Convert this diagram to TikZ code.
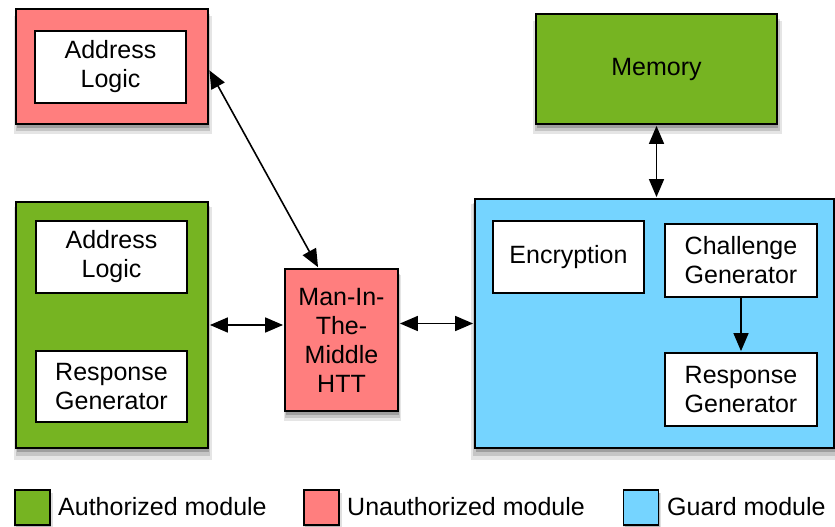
\documentclass[tikz,border=0pt]{standalone}
\usepackage{fontspec}
\setmainfont{Liberation Sans}
\usetikzlibrary{arrows.meta,calc,shadows}
\definecolor{authgreen}{RGB}{118,180,34}
\definecolor{unauthred}{RGB}{255,126,126}
\definecolor{guardblue}{RGB}{117,212,255}
\tikzset{
  box/.style={draw=black,line width=1.8pt,rectangle,inner sep=0pt,align=center,
    font=\fontsize{25}{29}\selectfont},
  softshadow/.style={
    general shadow={fill=black,opacity=0.10,shadow xshift=1pt,shadow yshift=-8pt,shadow scale=1.03},
    general shadow={fill=black,opacity=0.14,shadow xshift=1pt,shadow yshift=-6pt,shadow scale=1.015},
    general shadow={fill=black,opacity=0.20,shadow xshift=1pt,shadow yshift=-4pt}},
  smallshadow/.style={
    general shadow={fill=black,opacity=0.12,shadow xshift=1pt,shadow yshift=-4pt,shadow scale=1.1},
    general shadow={fill=black,opacity=0.18,shadow xshift=1pt,shadow yshift=-3pt}},
  outer/.style={box,softshadow},
  inner/.style={box,fill=white},
  conn/.style={line width=1.6pt,{Triangle[length=18pt,width=15pt]}-{Triangle[length=18pt,width=15pt]},shorten <=1pt,shorten >=1pt},
  oneway/.style={line width=1.6pt,-{Triangle[length=18pt,width=15pt]},shorten >=1pt},
  legtext/.style={anchor=west,inner sep=0pt,font=\fontsize{25}{29}\selectfont}
}
\begin{document}
\begin{tikzpicture}[x=1pt,y=-1pt]
\useasboundingbox (0,0) rectangle (835,527);
% top-left unauthorized
\node[outer,fill=unauthred,minimum width=192pt,minimum height=115pt] (tl) at (112,66.5) {};
\node[inner,minimum width=151pt,minimum height=72pt] (tladdr) at (110.5,67) {Address\\Logic};
% left authorized
\node[outer,fill=authgreen,minimum width=192pt,minimum height=246pt] (auth) at (112,325) {};
\node[inner,minimum width=151pt,minimum height=72pt] (aaddr) at (111.5,257) {Address\\Logic};
\node[inner,minimum width=151pt,minimum height=71pt] (aresp) at (111.5,386.5) {Response\\Generator};
% MITM
\node[outer,fill=unauthred,minimum width=113pt,minimum height=142pt] (mitm) at (341.5,340) {Man-In-\\The-\\Middle\\HTT};
% memory
\node[outer,fill=authgreen,minimum width=241pt,minimum height=110pt] (mem) at (656.5,69) {Memory};
% guard
\node[outer,fill=guardblue,minimum width=359pt,minimum height=249pt] (guard) at (654.5,323.5) {};
\node[inner,minimum width=151pt,minimum height=72pt] (enc) at (568.5,257) {Encryption};
\node[inner,minimum width=152pt,minimum height=73pt] (chal) at (741,260.5) {Challenge\\Generator};
\node[inner,minimum width=152pt,minimum height=73pt] (gresp) at (741,389.5) {Response\\Generator};
% connectors
\coordinate (tlp) at ($(tl.east)+(0,3)$);
\draw[conn] (tlp) -- ($(mitm.north west)!0.3!(mitm.north east)$);
\draw[conn] (auth.east) -- (auth.east -| mitm.west);
\draw[conn] (mitm.east |- guard.west) -- (guard.west);
\draw[conn] (mem.south) -- (mem.south |- guard.north);
\draw[oneway] (chal.south) -- (gresp.north);
% legend
\node[box,fill=authgreen,minimum width=35pt,minimum height=35pt,smallshadow] (lg) at (32.5,507.5) {};
\node[legtext] (lgt) at (58,507) {Authorized module};
\node[box,fill=unauthred,minimum width=35pt,minimum height=35pt,smallshadow] (lr) at (321.5,507.5) {};
\node[legtext] (lrt) at (347,507) {Unauthorized module};
\node[box,fill=guardblue,minimum width=35pt,minimum height=35pt,smallshadow] (lb) at (641,507.5) {};
\node[legtext] (lbt) at (667,507) {Guard module};
\end{tikzpicture}
\end{document}
